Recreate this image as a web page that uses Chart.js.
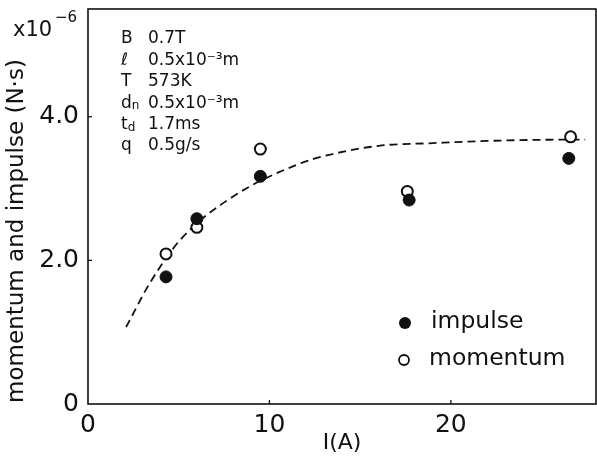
<!DOCTYPE html>
<html>
<head>
<meta charset="utf-8">
<script src="https://cdn.jsdelivr.net/npm/chart.js@4"></script>
<style>
  html, body { margin: 0; padding: 0; background: #fff; }
  #wrap { width: 597px; height: 461px; position: relative; }
</style>
</head>
<body>
<div id="wrap"><canvas id="chart"></canvas></div>
<script>
// values
const impulseX = [4.3, 6.0, 9.5, 17.7, 26.5]
const impulseY = [1.77, 2.58, 3.17, 2.84, 3.42]
const momentumX = [4.3, 6.0, 9.5, 17.6, 26.6]
const momentumY = [2.09, 2.46, 3.55, 2.96, 3.72]
const fitX = [2.1, 3.4, 5.1, 8.0, 11.7, 13.3, 16.2, 18.8, 21.6, 26.0, 27.4]
const fitY = [1.07, 1.68, 2.29, 2.89, 3.35, 3.47, 3.60, 3.63, 3.66, 3.68, 3.68]
const xTicks = [0, 10, 20]
const xTickLabels = ['0', '10', '20']
const yTicks = [0, 2, 4]
const yTickLabels = ['0', '2.0', '4.0']
const params = [
  ['B', '', '0.7T'],
  ['ℓ', '', '0.5x10⁻³m'],
  ['T', '', '573K'],
  ['d', 'n', '0.5x10⁻³m'],
  ['t', 'd', '1.7ms'],
  ['q', '', '0.5g/s']
]

const INK = '#111'
const FONT = '"DejaVu Sans", sans-serif'

const pts = (xs, ys) => xs.map((x, i) => ({x: x, y: ys[i]}))

// fixed axis sizes, no label overhang padding
function fixX (s) { s.height = 57; s.paddingLeft = 0; s.paddingRight = 0 }
function fixY (s) { s.width = 88; s.paddingTop = 0; s.paddingBottom = 0 }

// box, inward ticks, annotations and legend
const decor = {
  id: 'decor',
  afterDraw (chart) {
    const ctx = chart.ctx
    const a = chart.chartArea
    const xs = chart.scales.x
    const ys = chart.scales.y
    ctx.save()
    ctx.strokeStyle = INK
    ctx.lineWidth = 1.6
    ctx.strokeRect(a.left, a.top, a.right - a.left, a.bottom - a.top)
    ctx.lineWidth = 1.3
    xTicks.slice(1).forEach(v => {
      const px = xs.getPixelForValue(v)
      ctx.beginPath(); ctx.moveTo(px, a.bottom); ctx.lineTo(px, a.bottom - 4); ctx.stroke()
    })
    yTicks.slice(1).forEach(v => {
      const py = ys.getPixelForValue(v)
      ctx.beginPath(); ctx.moveTo(a.left, py); ctx.lineTo(a.left + 4, py); ctx.stroke()
    })

    ctx.fillStyle = INK
    ctx.textBaseline = 'middle'
    ctx.textAlign = 'left'

    // exponent label
    ctx.font = '21px ' + FONT
    ctx.fillText('x10', 13, 31)
    ctx.font = '15px ' + FONT
    ctx.fillText('−6', 55, 18)

    // parameter list
    params.forEach((p, i) => {
      const y = 39 + i * 21.4
      ctx.font = '17px ' + FONT
      ctx.fillText(p[0], 121, y)
      if (p[1]) {
        const w = ctx.measureText(p[0]).width
        ctx.font = '12px ' + FONT
        ctx.fillText(p[1], 121 + w, y + 3)
        ctx.font = '17px ' + FONT
      }
      ctx.fillText(p[2], 148, y)
    })

    // legend
    ctx.beginPath(); ctx.arc(405, 323, 6, 0, Math.PI * 2); ctx.fill()
    ctx.lineWidth = 1.8
    ctx.beginPath(); ctx.arc(404, 360, 5, 0, Math.PI * 2); ctx.stroke()
    ctx.font = '23.5px ' + FONT
    ctx.fillText('impulse', 431, 322)
    ctx.fillText('momentum', 429, 359)

    // axis titles
    ctx.font = '22px ' + FONT
    ctx.textAlign = 'center'
    ctx.fillText('I(A)', (a.left + a.right) / 2, 443)
    ctx.font = '23px ' + FONT
    ctx.translate(17, 231)
    ctx.rotate(-Math.PI / 2)
    ctx.fillText('momentum and impulse (N·s)', 0, 0)
    ctx.restore()
  }
}

const chart = new Chart(document.getElementById('chart'), {
  type: 'scatter',
  data: {
    datasets: [
      {
        label: 'impulse',
        data: pts(impulseX, impulseY),
        pointRadius: 6,
        pointBackgroundColor: INK,
        pointBorderColor: INK,
        pointBorderWidth: 1
      },
      {
        label: 'momentum',
        data: pts(momentumX, momentumY),
        pointRadius: 5.5,
        pointBackgroundColor: '#fff',
        pointBorderColor: INK,
        pointBorderWidth: 2
      },
      {
        label: 'fit',
        type: 'line',
        data: pts(fitX, fitY),
        showLine: true,
        borderColor: INK,
        borderWidth: 1.8,
        borderDash: [8, 5],
        pointRadius: 0,
        cubicInterpolationMode: 'monotone',
        fill: false
      }
    ]
  },
  options: {
    responsive: true,
    maintainAspectRatio: false,
    animation: false,
    layout: {autoPadding: false, padding: {top: 9, right: 1, left: 0, bottom: 0}},
    scales: {
      x: {
        type: 'linear',
        min: 0,
        max: 28,
        afterFit: fixX,
        afterBuildTicks: s => { s.ticks = xTicks.map(v => ({value: v})) },
        grid: {display: false, drawTicks: false},
        border: {display: false},
        ticks: {
          color: INK,
          padding: 6,
          maxRotation: 0,
          font: {family: FONT, size: 25},
          callback: v => xTickLabels[xTicks.indexOf(v)]
        }
      },
      y: {
        type: 'linear',
        min: 0,
        max: 5.5,
        afterFit: fixY,
        afterBuildTicks: s => { s.ticks = yTicks.map(v => ({value: v})) },
        grid: {display: false, drawTicks: false},
        border: {display: false},
        ticks: {
          color: INK,
          padding: 9,
          font: {family: FONT, size: 25},
          callback: v => yTickLabels[yTicks.indexOf(v)]
        }
      }
    },
    plugins: {
      legend: {display: false},
      tooltip: {enabled: false}
    }
  },
  plugins: [decor]
})
</script>
</body>
</html>
